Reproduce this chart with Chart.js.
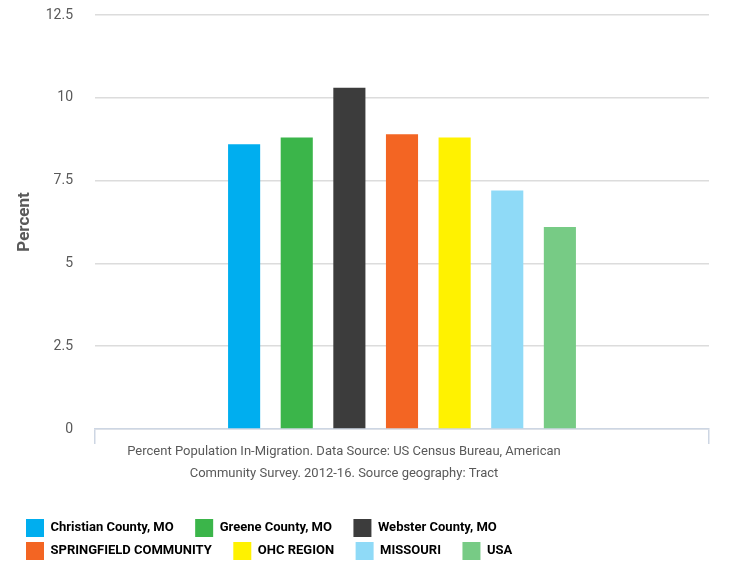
<!DOCTYPE html>
<html>
<head>
<meta charset="utf-8">
<script src="https://cdn.jsdelivr.net/npm/chart.js@4"></script>
<style>
  html, body { margin: 0; padding: 0; background: #ffffff; }
  #wrap { width: 729px; height: 564px; position: relative; }
</style>
</head>
<body>
<div id="wrap"><canvas id="c" width="729" height="564"></canvas></div>
<script>
const categories = [[
  'Percent Population In-Migration. Data Source: US Census Bureau, American',
  'Community Survey. 2012-16. Source geography: Tract'
]];
const seriesNames = [
  'Christian County, MO', 'Greene County, MO', 'Webster County, MO',
  'SPRINGFIELD COMMUNITY', 'OHC REGION', 'MISSOURI', 'USA'
];
const seriesValues = [8.6, 8.8, 10.3, 8.9, 8.8, 7.2, 6.1];
const yTickValues = [0, 2.5, 5, 7.5, 10, 12.5];
const yAxisTitle = 'Percent';

const seriesColors = ['#00AEEF', '#3BB54A', '#3C3C3C', '#F36523', '#FFF200', '#8FDAF7', '#77CB85'];
const FONT = 'Roboto, "Liberation Sans", sans-serif';
const legendSpacer = '\u2003 ';

const datasets = seriesNames.map((name, i) => ({
  label: name,
  data: [seriesValues[i]],
  backgroundColor: seriesColors[i],
  borderWidth: 0,
  barPercentage: 0.61,
  categoryPercentage: 0.6
}));

const layoutTweak = {
  id: 'layoutTweak',
  afterLayout(chart) {
    const lg = chart.legend;
    if (!lg) return;
    const h = lg.height;
    lg.left = 21;
    lg.right = 650;
    lg.width = lg.right - lg.left;
    lg.top = lg.top + 6;
    lg.bottom = lg.top + h;
  }
};

new Chart(document.getElementById('c'), {
  type: 'bar',
  data: { labels: categories, datasets },
  plugins: [layoutTweak],
  options: {
    responsive: false,
    animation: false,
    devicePixelRatio: 1,
    layout: { padding: { top: 15, right: 20, left: 0, bottom: 0 } },
    plugins: {
      tooltip: { enabled: false },
      legend: {
        position: 'bottom',
        align: 'start',
        labels: {
          boxWidth: 18,
          boxHeight: 18,
          padding: 5,
          color: '#333333',
          font: { family: FONT, size: 13, weight: 'bold' },
          generateLabels(chart) {
            return chart.data.datasets.map((ds, i) => ({
              text: ds.label + legendSpacer,
              fillStyle: ds.backgroundColor,
              strokeStyle: ds.backgroundColor,
              lineWidth: 0,
              hidden: false,
              datasetIndex: i
            }));
          }
        }
      }
    },
    scales: {
      x: {
        offset: true,
        grid: {
          display: true,
          drawOnChartArea: false,
          drawTicks: true,
          tickLength: 15,
          color: '#cdd6e3',
          lineWidth: 1.5
        },
        border: { display: true, color: '#cdd6e3', width: 1.5 },
        ticks: {
          color: '#595959',
          padding: -3,
          labelOffset: -58,
          maxRotation: 0,
          autoSkip: false,
          font: { family: FONT, size: 13, lineHeight: '22px' }
        },
        afterFit(scale) { scale.height = 79; }
      },
      y: {
        min: 0,
        max: 12.5,
        afterBuildTicks(scale) { scale.ticks = yTickValues.map(v => ({ value: v })); },
        grid: { color: '#dcdcdc', lineWidth: 1.5, drawTicks: false },
        border: { display: false },
        ticks: {
          color: '#595959',
          padding: 22,
          font: { family: FONT, size: 14 },
          callback: (v) => String(v)
        },
        title: {
          display: true,
          text: yAxisTitle,
          color: '#595959',
          font: { family: FONT, size: 17, weight: 'bold', lineHeight: 1.2 },
          padding: { top: 15, bottom: 0 }
        },
        afterFit(scale) {
          scale.width = 95;
          scale.paddingTop = 0;
          scale.paddingBottom = 0;
        }
      }
    }
  }
});
</script>
</body>
</html>
